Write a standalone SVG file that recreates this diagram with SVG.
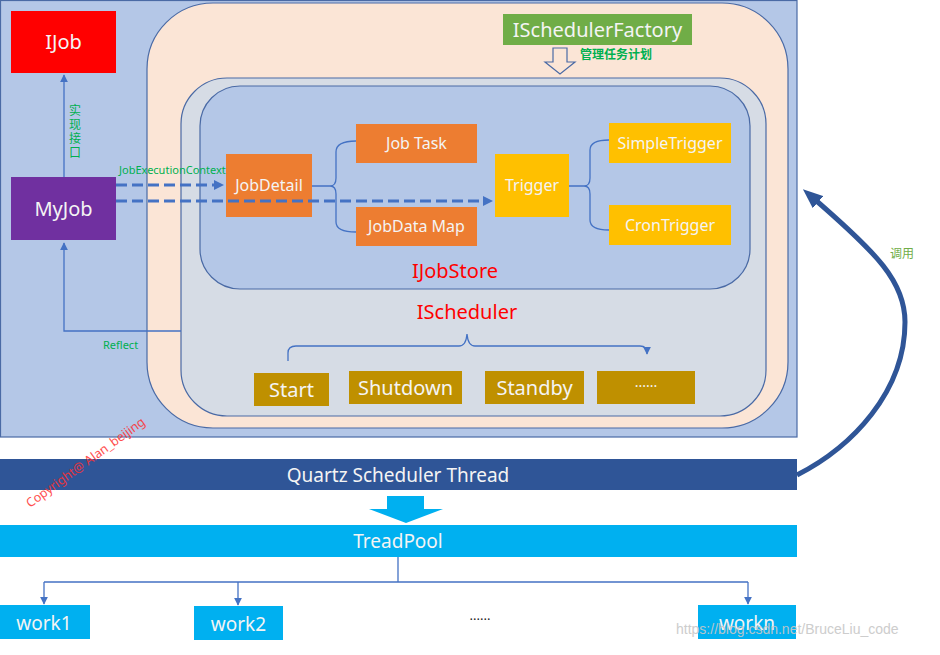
<svg xmlns="http://www.w3.org/2000/svg" width="940" height="655" viewBox="0 0 940 655">
<style>
text{font-family:"Noto Sans","Liberation Sans","Noto Sans CJK SC",sans-serif;}
.w{fill:#f4f4f4;text-anchor:middle;}
.big{font-size:20px;}
.mid{font-size:16px;}
.g{fill:#00b050;font-size:11px;}
.red{fill:#ff0000;text-anchor:middle;font-size:20px;}
.thin{fill:none;stroke:#4472c4;stroke-width:1.3;}
.dash{fill:none;stroke:#4472c4;stroke-width:3;stroke-dasharray:11 5;}
.org{fill:#ed7d31;}
.yel{fill:#ffc000;}
.gold{fill:#bf9000;}
.cyan{fill:#00b0f0;}
</style>
<defs>
<marker id="ah" viewBox="0 0 10 10" refX="9" refY="5" markerWidth="8" markerHeight="8" markerUnits="userSpaceOnUse" orient="auto"><path d="M0,0 L10,5 L0,10 z" fill="#4472c4"/></marker>
<marker id="ahd" viewBox="0 0 10 10" refX="2" refY="5" markerWidth="10" markerHeight="10" markerUnits="userSpaceOnUse" orient="auto"><path d="M0,0 L10,5 L0,10 z" fill="#4472c4"/></marker>
<marker id="ahb" viewBox="0 0 20 16" refX="8" refY="8" markerWidth="20" markerHeight="16" markerUnits="userSpaceOnUse" orient="auto"><path d="M0,0 L20,8 L0,16 z" fill="#2f5597"/></marker>
</defs>
<rect width="940" height="655" fill="#ffffff"/>
<g id="frame">
<rect x="0.5" y="0.5" width="796.5" height="436.5" fill="#b4c7e7" stroke="#4a6aa5" stroke-width="1.2"/>
<rect x="147" y="3" width="641" height="425" rx="66" ry="66" fill="#fbe5d6" stroke="#4a6aa5" stroke-width="1.2"/>
<rect x="181" y="78" width="585" height="338" rx="46" ry="46" fill="#d6dce5" stroke="#4a6aa5" stroke-width="1.2"/>
<rect x="200" y="86" width="550" height="203" rx="40" ry="40" fill="#b4c7e7" stroke="#4a6aa5" stroke-width="1.2"/>
</g>
<g id="ijob"><rect x="11" y="11" width="105" height="62" fill="#ff0000"/><text class="w big" x="63.5" y="49">IJob</text></g>
<g id="myjob"><rect x="11" y="177" width="105" height="63" fill="#7030a0"/><text class="w big" x="63.5" y="216">MyJob</text></g>
<g id="factory"><rect x="503" y="14" width="189" height="31" fill="#70ad47"/><text class="w big" x="597.5" y="37">ISchedulerFactory</text>
<path d="M553,48 L567,48 L567,62 L575,62 L560,74 L545,62 L553,62 z" fill="none" stroke="#4a6aa5" stroke-width="1.2"/>
<text x="580" y="59" style="fill:#00b050;font-size:12px;font-weight:bold">管理任务计划</text></g>
<g id="jobdetail"><rect class="org" x="226" y="154" width="86" height="63"/><text class="w mid" x="269" y="191">JobDetail</text></g>
<g id="jobtask"><rect class="org" x="356" y="124" width="121" height="39"/><text class="w mid" x="416.5" y="149">Job Task</text></g>
<g id="jobdatamap"><rect class="org" x="356" y="207" width="121" height="39"/><text class="w mid" x="416.5" y="232">JobData Map</text></g>
<g id="trigger"><rect class="yel" x="495" y="154" width="74" height="63"/><text class="w mid" x="532" y="191">Trigger</text></g>
<g id="simpletrigger"><rect class="yel" x="609" y="123" width="122" height="40"/><text class="w mid" x="670" y="149">SimpleTrigger</text></g>
<g id="crontrigger"><rect class="yel" x="609" y="205" width="122" height="40"/><text class="w mid" x="670" y="231">CronTrigger</text></g>
<g id="ijobstore"><text class="red" x="455" y="278">IJobStore</text></g>
<g id="ischeduler"><text class="red" x="467" y="319">IScheduler</text></g>
<g id="start"><rect class="gold" x="254" y="373" width="75" height="33"/><text class="w big" x="291.5" y="397">Start</text></g>
<g id="shutdown"><rect class="gold" x="349" y="371" width="113" height="33"/><text class="w big" x="405.5" y="395">Shutdown</text></g>
<g id="standby"><rect class="gold" x="485" y="371" width="99" height="33"/><text class="w big" x="534.5" y="395">Standby</text></g>
<g id="more"><rect class="gold" x="597" y="371" width="98" height="33"/><text class="w" x="646" y="391" style="font-size:14px">······</text></g>
<g id="quartz"><rect x="0" y="459" width="797" height="31" fill="#2f5597"/><text class="w" x="398" y="482" style="font-size:19px">Quartz Scheduler Thread</text></g>
<g id="treadpool"><rect class="cyan" x="0" y="525" width="797" height="32"/><text class="w" x="398" y="548" style="font-size:19px">TreadPool</text></g>
<g id="work1"><rect class="cyan" x="0" y="605" width="90" height="34"/><text class="w" x="44" y="630" style="font-size:19px">work1</text></g>
<g id="work2"><rect class="cyan" x="194" y="606" width="89" height="34"/><text class="w" x="238.5" y="631" style="font-size:19px">work2</text></g>
<g id="workn"><rect class="cyan" x="698" y="605" width="98" height="34"/><text class="w" x="747" y="630" style="font-size:19px">workn</text></g>
<g id="connectors">
<path class="thin" d="M64,177 L64,75" marker-end="url(#ah)"/>
<text class="g" style="font-size:12px;writing-mode:tb;letter-spacing:2px" x="74" y="104">实现接口</text>
<path class="thin" d="M181,331 L64,331 L64,243" marker-end="url(#ah)"/>
<text class="g" x="103" y="349">Reflect</text>
<text class="g" x="119" y="174">JobExecutionContext</text>
<path class="dash" d="M116,185 L216,185" marker-end="url(#ahd)"/>
<path class="dash" d="M116,201 L485,201" marker-end="url(#ahd)"/>
<path class="thin" d="M312,186 L330,186 M356,141 Q336,141 336,152 L336,178 Q336,186 330,186 Q336,186 336,194 L336,222 Q336,232 356,232"/>
<path class="thin" d="M569,186 L584,186 M609,140 Q590,140 590,150 L590,178 Q590,186 584,186 Q590,186 590,194 L590,220 Q590,230 609,230"/>
<path class="thin" d="M288,361 L288,353 Q288,346 296,346 L459,346 Q466,346 467,334 Q468,346 475,346 L640,346 Q647,346 647,353 L647,354" marker-end="url(#ah)"/>
<path d="M387,496 L424,496 L424,509 L443,509 L406,523 L369,509 L387,509 z" fill="#00b0f0"/>
<path class="thin" d="M398,557 L398,582 M44,582 L748,582"/>
<path class="thin" d="M44,582 L44,604" marker-end="url(#ah)"/>
<path class="thin" d="M238,582 L238,605" marker-end="url(#ah)"/>
<path class="thin" d="M748,582 L748,604" marker-end="url(#ah)"/>
<path d="M797,475 C852,447 905,392 905,322 C905,282 878,254 812,197" fill="none" stroke="#2f5597" stroke-width="5" marker-end="url(#ahb)"/>
<text x="890" y="258" style="fill:#70ad47;font-size:12px">调用</text>
</g>
<text x="480" y="624" style="fill:#222;font-size:13px;text-anchor:middle">······</text>
<text x="30" y="508" transform="rotate(-36 30 508)" style="fill:#ff3030;font-size:12.5px;opacity:0.85">Copyright@ Alan_beijing</text>
<text x="676" y="634" style="fill:#c8c8c8;font-size:14px;font-family:'Liberation Sans',sans-serif;opacity:0.9">https://blog.csdn.net/BruceLiu_code</text>
</svg>
